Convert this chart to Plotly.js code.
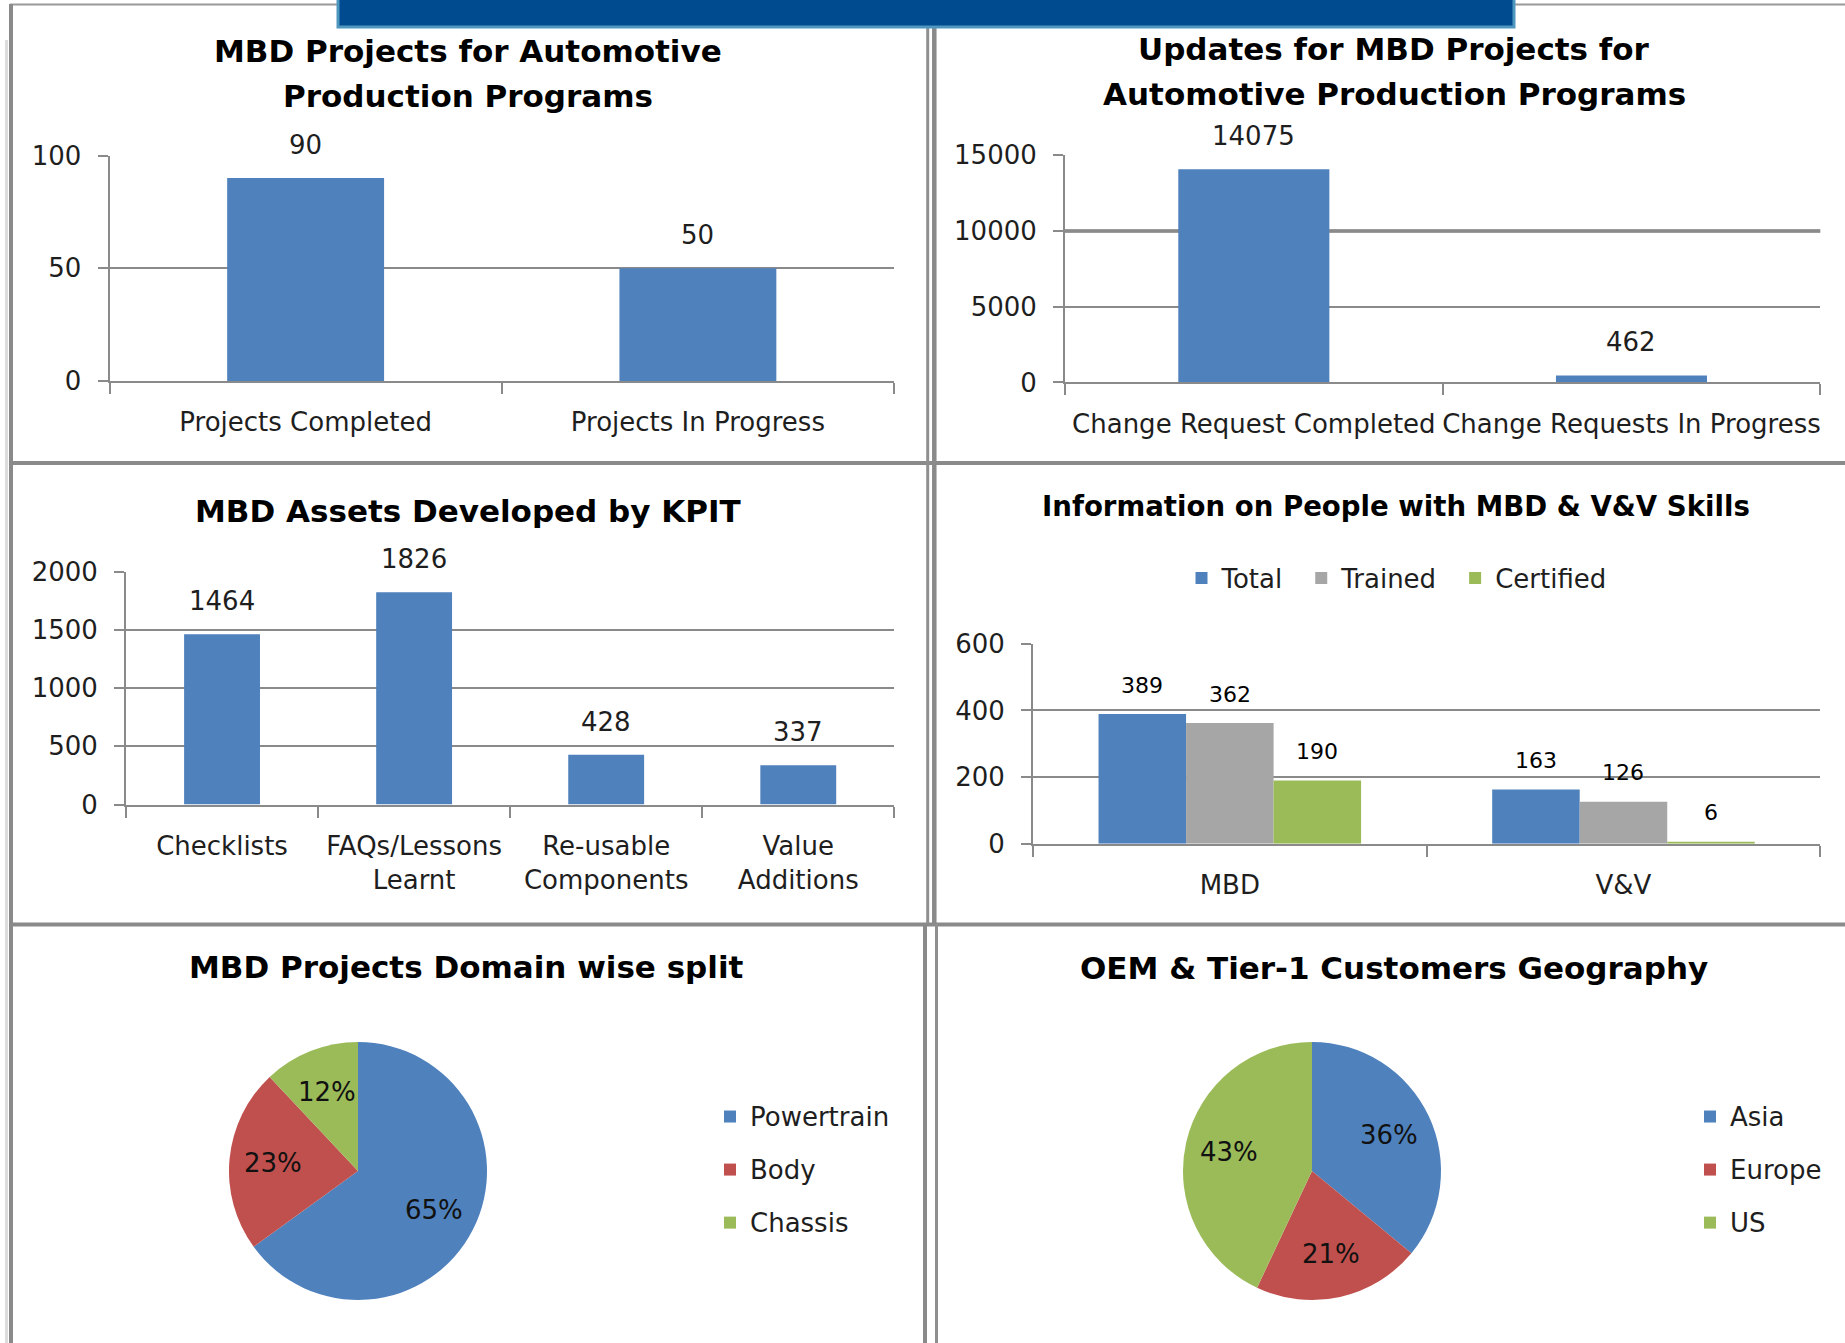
<!DOCTYPE html>
<html><head><meta charset="utf-8">
<script src="https://cdn.plot.ly/plotly-3.0.1.min.js"></script>
<style>html,body{margin:0;padding:0;background:#fff;overflow:hidden}#chart{width:1845px;height:1343px}</style>
</head><body><div id="chart"></div>
<script>
// ---------------- data ----------------
const projCats = ['Projects Completed', 'Projects In Progress'];
const projVals = [90, 50];
const projTicks = [0, 50, 100];

const updCats = ['Change Request Completed', 'Change Requests In Progress'];
const updVals = [14075, 462];
const updTicks = [0, 5000, 10000, 15000];

const assetCats = ['Checklists', 'FAQs/Lessons<br>Learnt', 'Re-usable<br>Components', 'Value<br>Additions'];
const assetVals = [1464, 1826, 428, 337];
const assetTicks = [0, 500, 1000, 1500, 2000];

const skillCats = ['MBD', 'V&V'];
const skillSeries = ['Total', 'Trained', 'Certified'];
const skillTotal = [389, 163];
const skillTrained = [362, 126];
const skillCertified = [190, 6];
const skillTicks = [0, 200, 400, 600];

const domainLabels = ['Powertrain', 'Body', 'Chassis'];
const domainVals = [65, 23, 12];
const geoLabels = ['Asia', 'Europe', 'US'];
const geoVals = [36, 21, 43];

const titles = {
  p1: ['MBD Projects for Automotive', 'Production Programs'],
  p2: ['Updates for MBD Projects for', 'Automotive Production Programs'],
  p3: ['MBD Assets Developed by KPIT'],
  p4: ['Information on People with MBD &amp; V&amp;V Skills'],
  p5: ['MBD Projects Domain wise split'],
  p6: ['OEM &amp; Tier-1 Customers Geography']
};

// ---------------- style ----------------
const W = 1845, H = 1343;
const px = v => v / W;
const py = v => 1 - v / H;
const FONT = '"DejaVu Sans", Verdana, sans-serif';
const TXT = '#1e1e1e';
const GRID = '#8a8a8a';
const BLUE = '#4F81BD', RED = '#C0504D', GREEN = '#9BBB59', GRAY = '#A6A6A6';
const TICKSIZE = 26;

function yAx(top, bottom, range, tickvals, anchor) {
  return {domain: [py(bottom), py(top)], range: range, tickvals: tickvals, tickformat: 'd', anchor: anchor,
    showgrid: true, gridcolor: GRID, gridwidth: 2, showline: true, linecolor: GRID, linewidth: 2,
    ticks: 'outside', ticklen: 10, tickwidth: 2, tickcolor: GRID, zeroline: false,
    tickfont: {family: FONT, size: TICKSIZE, color: TXT}, ticklabelstandoff: 11, fixedrange: true};
}
function xAx(left, right, anchor) {
  return {domain: [px(left), px(right)], anchor: anchor, type: 'category', tickangle: 0,
    showgrid: false, showline: true, linecolor: GRID, linewidth: 2,
    ticks: 'outside', tickson: 'boundaries', ticklen: 11, tickwidth: 2, tickcolor: GRID,
    tickfont: {family: FONT, size: TICKSIZE, color: TXT}, ticklabelstandoff: 17, fixedrange: true};
}

const traces = [];
traces.push({type: 'bar', x: projCats, y: projVals, xaxis: 'x', yaxis: 'y', width: 0.4,
  marker: {color: BLUE}, showlegend: false, hoverinfo: 'x+y'});
traces.push({type: 'bar', x: updCats, y: updVals, xaxis: 'x2', yaxis: 'y2', width: 0.4,
  marker: {color: BLUE}, showlegend: false, hoverinfo: 'x+y'});
traces.push({type: 'bar', x: assetCats, y: assetVals, xaxis: 'x3', yaxis: 'y3', width: 0.395,
  marker: {color: BLUE}, showlegend: false, hoverinfo: 'x+y'});
const skillData = [skillTotal, skillTrained, skillCertified];
const skillColors = [BLUE, GRAY, GREEN];
skillSeries.forEach((s, j) => {
  traces.push({type: 'bar', name: s + '\u2002', x: skillCats, y: skillData[j], xaxis: 'x4', yaxis: 'y4',
    marker: {color: skillColors[j]}, legend: 'legend', showlegend: true});
});

// pies: legend text drawn smaller than the legend line height to space the entries like the original
const legLabel = l => '<span style="font-size:26px;baseline-shift:6px">' + l + '</span>';
const pie1 = {cx: 358, cy: 1171, r: 129};
const pie2 = {cx: 1312, cy: 1171, r: 129};
function pieTrace(labels, vals, geo, leg) {
  return {type: 'pie', labels: labels.map(legLabel), values: vals, sort: false, direction: 'clockwise', rotation: 0,
    marker: {colors: [BLUE, RED, GREEN], line: {width: 0}}, textinfo: 'none', hoverinfo: 'percent',
    domain: {x: [px(geo.cx - geo.r), px(geo.cx + geo.r)], y: [py(geo.cy + geo.r), py(geo.cy - geo.r)]},
    legend: leg, showlegend: true};
}
traces.push(pieTrace(domainLabels, domainVals, pie1, 'legend2'));
traces.push(pieTrace(geoLabels, geoVals, pie2, 'legend3'));

// ---------------- annotations ----------------
const ann = [];
function titleAnn(lines, cx, ys, size) {
  lines.forEach((t, k) => ann.push({xref: 'paper', yref: 'paper', x: px(cx), y: py(ys[k]), text: t,
    showarrow: false, xanchor: 'center', yanchor: 'middle',
    font: {family: FONT, size: size || 31, color: '#000', weight: 'bold'}}));
}
titleAnn(titles.p1, 468, [50.6, 96.5]);
titleAnn(titles.p2, 1394, [49.4, 94.1]);
titleAnn(titles.p3, 468, [510.7]);
titleAnn(titles.p4, 1396, [507], 27.6);
titleAnn(titles.p5, 466, [967]);
titleAnn(titles.p6, 1394, [968.5]);

function barLabels(vals, xr, yr, shift, size, offs) {
  vals.forEach((v, i) => ann.push({xref: xr, yref: yr, x: i + (offs || 0), y: v, text: String(v),
    showarrow: false, yanchor: 'middle', yshift: shift,
    font: {family: FONT, size: size, color: size < 26 ? '#000' : TXT}}));
}
barLabels(projVals, 'x', 'y', 33, 26);
barLabels(updVals, 'x2', 'y2', 33, 26);
barLabels(assetVals, 'x3', 'y3', 33, 26);
const groupW = 1 - 0.333;
skillData.forEach((arr, j) => barLabels(arr, 'x4', 'y4', 29, 22, (j - 1) * groupW / 3));

// percentage labels on the pies, placed along each slice's mid angle
function pieLabels(vals, geo) {
  const tot = vals.reduce((a, b) => a + b, 0);
  let cum = 0;
  vals.forEach(v => {
    const th = 2 * Math.PI * (cum + v / 2) / tot;
    cum += v;
    const k = 0.66 * geo.r;
    ann.push({xref: 'paper', yref: 'paper', x: px(geo.cx + k * Math.sin(th)), y: py(geo.cy - k * Math.cos(th)),
      text: v + '%', showarrow: false, xanchor: 'center', yanchor: 'middle',
      font: {family: FONT, size: 26, color: '#111'}});
  });
}
pieLabels(domainVals, pie1);
pieLabels(geoVals, pie2);

// ---------------- frame shapes ----------------
const shapes = [];
function pline(x0, y0, x1, y1, color, w) {
  shapes.push({type: 'line', xref: 'paper', yref: 'paper', x0: px(x0), y0: py(y0), x1: px(x1), y1: py(y1),
    line: {color: color, width: w}, layer: 'above'});
}
pline(10, 4.5, 1845, 4.5, '#9a9a9a', 2);
pline(6.5, 40, 6.5, 1343, '#dcdcdc', 3);
pline(11, 4, 11, 1343, '#8a8a8a', 4);
pline(9, 463, 1845, 463, '#8a8a8a', 4);
pline(9, 924.5, 1845, 924.5, '#8a8a8a', 4);
pline(927.7, 4, 927.7, 924, '#8f8f8f', 3);
pline(934.3, 4, 934.3, 924, '#8a8a8a', 4.5);
pline(925, 924, 925, 1343, '#8a8a8a', 4);
pline(936.5, 924, 936.5, 1343, '#8f8f8f', 3);
shapes.push({type: 'rect', xref: 'paper', yref: 'paper', x0: px(338), x1: px(1514), y0: py(27), y1: py(-4),
  fillcolor: '#004A8F', line: {color: '#4F97BE', width: 3}, layer: 'above'});
// emphasised 10000 gridline in the updates chart
shapes.push({type: 'line', xref: 'x2 domain', yref: 'y2', x0: 0, x1: 1, y0: updTicks[2], y1: updTicks[2],
  line: {color: '#7a7a7a', width: 3.5}, layer: 'below'});

const legFont = {family: FONT, size: 26, color: TXT};
const pieLegFont = {family: FONT, size: 38.5, color: TXT};
const layout = {
  width: W, height: H, margin: {l: 0, r: 0, t: 0, b: 0},
  paper_bgcolor: '#fff', plot_bgcolor: 'rgba(0,0,0,0)',
  barmode: 'group', bargap: 0.333, bargroupgap: 0,
  xaxis: xAx(109.5, 894, 'y'), yaxis: yAx(155.5, 381, [0, 100], projTicks, 'x'),
  xaxis2: xAx(1065, 1820.3, 'y2'), yaxis2: yAx(155.3, 382.4, [0, 15000], updTicks, 'x2'),
  xaxis3: xAx(126, 894.3, 'y3'), yaxis3: yAx(572, 804.5, [0, 2000], assetTicks, 'x3'),
  xaxis4: xAx(1033, 1820.3, 'y4'), yaxis4: yAx(643.7, 843.8, [0, 600], skillTicks, 'x4'),
  legend: {orientation: 'h', x: px(1403), xanchor: 'center', y: py(578), yanchor: 'middle',
    font: legFont, bgcolor: 'rgba(0,0,0,0)', itemclick: false, itemdoubleclick: false},
  legend2: {orientation: 'v', x: px(710), xanchor: 'left', y: py(1170), yanchor: 'middle',
    font: pieLegFont, bgcolor: 'rgba(0,0,0,0)', itemclick: false, itemdoubleclick: false},
  legend3: {orientation: 'v', x: px(1690), xanchor: 'left', y: py(1170), yanchor: 'middle',
    font: pieLegFont, bgcolor: 'rgba(0,0,0,0)', itemclick: false, itemdoubleclick: false},
  annotations: ann, shapes: shapes,
  font: {family: FONT, color: TXT}
};
Plotly.newPlot('chart', traces, layout, {displayModeBar: false, responsive: false});
</script></body></html>
